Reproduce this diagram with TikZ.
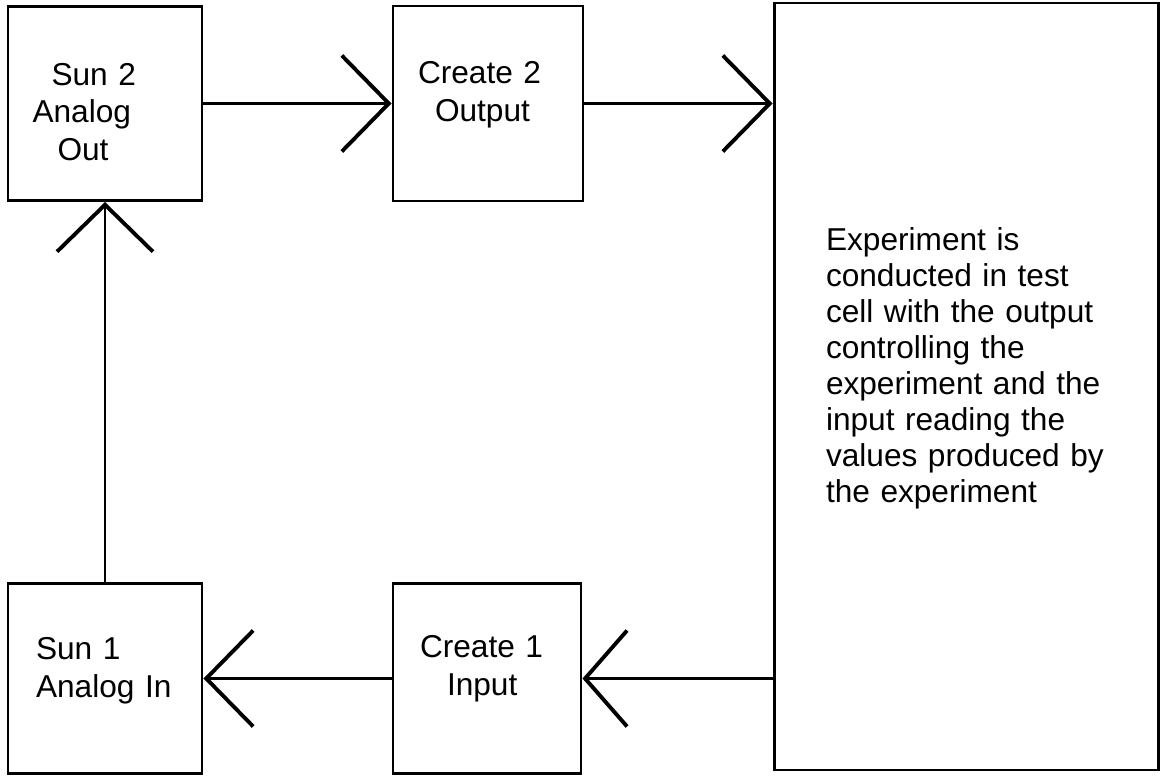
\documentclass[tikz,border=0pt]{standalone}
\usepackage{fontspec}
\setmainfont{Liberation Sans}
\usetikzlibrary{arrows.meta, positioning}
\newcommand{\liftup}[1]{\rule[-#1]{0pt}{#1}}
\newcommand{\pushdown}[1]{\rule{0pt}{#1}}

\begin{document}
\begin{tikzpicture}[
    blockbox/.style={draw=black, line width=1.7pt, inner sep=0pt, minimum width=3.88cm, align=left, font=\fontsize{18}{21.5}\selectfont},
    arrow/.style={line width=1.7pt, -{Straight Barb[length=0.94cm, width=1.92cm, line width=2.2pt]}}
]
    \useasboundingbox (0,0) rectangle (23.26,15.52);

    \node[blockbox, minimum height=3.88cm, text width=2.9cm] (sun2) at (2.1, 13.45) {\pushdown{0.78cm}\hspace*{0.38cm}Sun 2\\Analog\\\hspace*{0.5cm}Out};
    \node[blockbox, minimum width=3.8cm, minimum height=3.9cm, text width=2.8cm] (create2) at (9.76, 13.45) {Create 2\\\hspace*{0.34cm}Output\liftup{0.49cm}};
    \node[blockbox, minimum width=7.68cm, minimum height=15.34cm, text width=5.6cm, font=\fontsize{18}{20.5}\selectfont] (exp) at (19.32, 7.79) {Experiment is\\conducted in test\\cell with the output\\controlling the\\experiment and the\\input reading the\\values produced by\\the experiment\liftup{0.85cm}};
    \node[blockbox, minimum height=3.8cm, text width=2.76cm] (sun1) at (2.1, 1.95) {Sun 1\\Analog In\liftup{0.45cm}};
    \node[blockbox, minimum width=3.76cm, minimum height=3.8cm, text width=2.68cm] (create1) at (9.74, 1.95) {Create 1\\\hspace*{0.54cm}Input\liftup{0.53cm}};

    \draw[arrow] (sun2) -- (create2);
    \draw[arrow] (create2.east) -- (create2.east -| exp.west);
    \draw[arrow, -{Straight Barb[length=0.84cm, width=1.92cm, line width=2.2pt]}] (create1.east -| exp.west) -- (create1.east);
    \draw[arrow] (create1) -- (sun1);
    \draw[arrow] (sun1) -- (sun2);
\end{tikzpicture}
\end{document}
